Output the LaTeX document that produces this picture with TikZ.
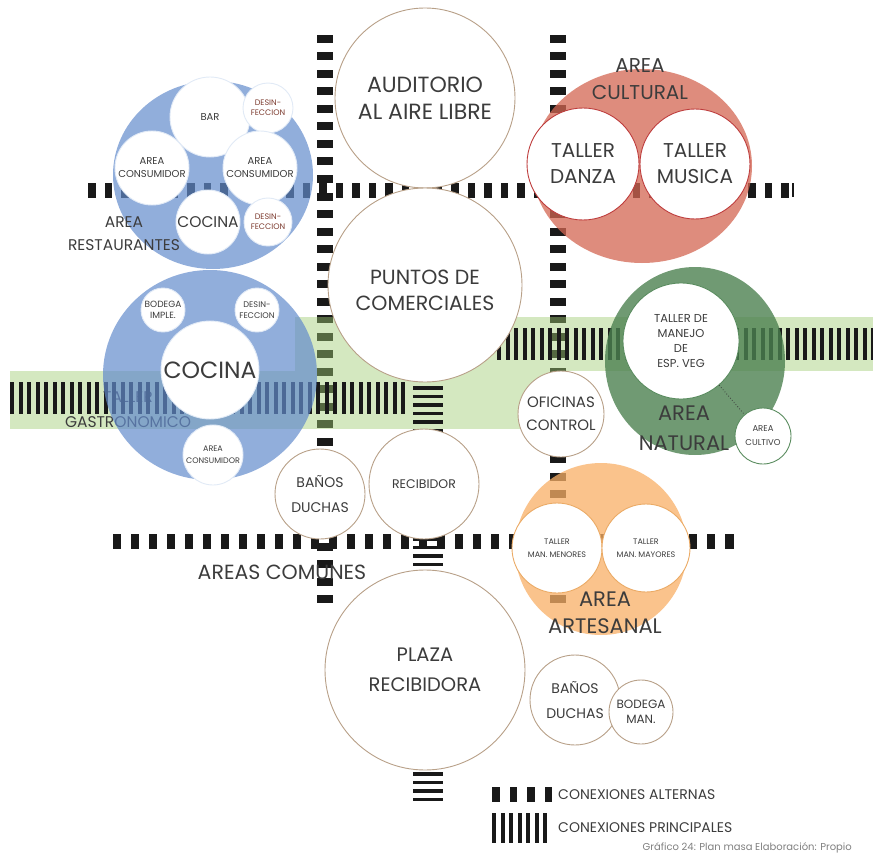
\documentclass[tikz,border=0pt]{standalone}
\usepackage{fontspec}
\setmainfont{Poppins}
\usetikzlibrary{shapes.geometric}
\definecolor{txt}{RGB}{60,60,60}
\definecolor{borde}{RGB}{184,160,136}
\definecolor{azul}{RGB}{99,139,204}
\definecolor{rojo}{RGB}{211,102,82}
\definecolor{verde}{RGB}{76,129,80}
\definecolor{naranja}{RGB}{248,175,102}
\definecolor{banda}{RGB}{160,204,115}
\definecolor{azulc}{RGB}{225,234,246}
\definecolor{rojoc}{RGB}{190,60,60}
\definecolor{verdec}{RGB}{90,140,95}
\definecolor{naranjac}{RGB}{235,170,100}
\newcommand{\letra}[2]{\fontsize{#1}{#2}\selectfont}
\tikzset{
	zona/.style={ellipse, fill=#1, fill opacity=0.75, inner sep=0pt},
	sala/.style={circle, draw=#1, fill=white, line width=0.9pt, inner sep=0pt, align=center, text=txt},
	sala/.default=borde,
	rotulo/.style={align=center, text=txt, inner sep=0pt},
	barra/.style={fill=black!90}
}
\begin{document}
\begin{tikzpicture}[x=1pt, y=-1pt]
			\useasboundingbox (0,0) rectangle (873,856);
			
			% conexiones alternas
			\def\altV {325/35/33, 558/35/33}  % x / first y / dashes
			\foreach \x\y\n in \altV
			{	\foreach \i in {1,...,\n}
				{	\fill[barra] ({\x-8},{\y+17.5*(\i-1)}) rectangle ++(16,8);
				}
			}
			\def\altH {88/190/43/16.5, 113/541/35/18}  % first x / y / dashes / step
			\foreach \x\y\n\p in \altH
			{	\foreach \i in {1,...,\n}
				{	\fill[barra] ({\x+\p*(\i-1)},{\y-7.5}) rectangle ++(7.5,15);
				}
			}
			\fill[barra] (792,183) rectangle ++(2,14);
			\fill[barra] (732,534) rectangle ++(2,15);
			
			% franjas verdes
			\fill[banda, fill opacity=0.45] (295,317) rectangle (873,371);
			\fill[banda, fill opacity=0.45] (10,371) rectangle (560,429);
			\node[rotulo, font=\letra{15.5}{25}] (lgas) at (128,410) {TALLER\\GASTRONOMICO};
			
			% conexiones principales
			\def\prinH {10/398/47, 497/344/45}  % first x / y / stripes
			\foreach \x\y\n in \prinH
			{	\foreach \i in {1,...,\n}
				{	\fill[barra] ({\x+8.5*(\i-1)},{\y-16}) rectangle ++(4,32);
				}
			}
			\def\prinV {386/6, 537/5, 772/4}  % first y / lines
			\foreach \y\n in \prinV
			{	\foreach \i in {1,...,\n}
				{	\fill[barra] (413,{\y+8.5*(\i-1)}) rectangle ++(30,3.5);
				}
			}
			
			% zonas
			\node[zona=azul, fill opacity=0.7, minimum width=200pt, minimum height=188pt] (rest) at (213,175) {};
			\node[zona=azul, fill opacity=0.7, minimum width=214pt, minimum height=210pt] (gast) at (210,375) {};
			\node[zona=rojo, minimum width=220pt, minimum height=194pt] (cult) at (642,166) {};
			\node[zona=verde, fill opacity=0.8, minimum width=180pt, minimum height=188pt] (nat) at (695,361) {};
			\node[zona=naranja, minimum width=172pt, minimum height=172pt] (art) at (601,549) {};
			
			% restaurantes
			\node[sala=azulc, minimum size=80pt, font=\letra{10}{12}] (bar) at (210,117) {BAR};
			\node[sala=azulc, minimum size=50pt, font=\letra{8}{10}, text=rojo!60!black] (des1) at (268,108) {DESIN-\\FECCION};
			\node[sala=azulc, minimum size=74pt, font=\letra{10}{13}] (con1) at (152,168) {AREA\\CONSUMIDOR};
			\node[sala=azulc, minimum size=74pt, font=\letra{10}{13}] (con2) at (260,168) {AREA\\CONSUMIDOR};
			\node[sala=azulc, minimum size=64pt, font=\letra{15.5}{18}] (coc1) at (208,222) {COCINA};
			\node[sala=azulc, minimum size=48pt, font=\letra{8}{10}, text=rojo!60!black] (des2) at (268,222) {DESIN-\\FECCION};
			
			% gastronomico
			\node[sala=azulc, minimum size=44pt, font=\letra{9}{11}] (bod1) at (163,310) {BODEGA\\IMPLE.};
			\node[sala=azulc, minimum size=44pt, font=\letra{8.2}{11}] (des3) at (257,310) {DESIN-\\FECCION};
			\node[sala=azulc, minimum size=98pt, font=\letra{23.5}{26}] (coc2) at (210,370) {COCINA};
			\node[sala=azulc, minimum size=60pt, font=\letra{8}{12}] (con3) at (213,455) {AREA\\CONSUMIDOR};
			
			% eje central
			\node[sala, minimum size=180pt, font=\letra{22}{27}] (aud) at (425,98) {AUDITORIO\\AL AIRE LIBRE};
			\node[sala, minimum size=194pt, font=\letra{20.5}{26}] (pun) at (425,285) {\rule{0pt}{25pt}PUNTOS DE\\COMERCIALES};
			\node[sala, minimum size=110pt, font=\letra{12.5}{14}] (rec) at (424,484) {RECIBIDOR};
			\node[sala, minimum size=90pt, font=\letra{14}{25}] (ban1) at (320,494) {BAÑOS\\DUCHAS};
			\node[sala, minimum size=200pt, font=\letra{19.5}{30}] (pla) at (425,670) {PLAZA\\RECIBIDORA};
			\node[sala, minimum size=86pt, font=\letra{15}{23}] (ofi) at (561,414) {OFICINAS\\CONTROL};
			\node[sala, minimum size=90pt, font=\letra{14}{25}] (ban2) at (575,700) {BAÑOS\\DUCHAS};
			\node[sala, minimum size=64pt, font=\letra{12}{15}] (bod2) at (641,712) {BODEGA\\MAN.};
			
			% cultural, natural, artesanal
			\node[sala=rojoc, minimum size=112pt, font=\letra{20}{26}] (dan) at (583,164) {TALLER\\DANZA};
			\node[sala=rojoc, minimum size=110pt, font=\letra{20}{26}] (mus) at (695,164) {TALLER\\MUSICA};
			\node[sala=verdec, minimum size=116pt, font=\letra{11.5}{15}] (man) at (681,341) {TALLER DE\\MANEJO\\DE\\ESP. VEG};
			\node[sala=verdec, minimum size=56pt, font=\letra{8.5}{14}] (cul) at (763,436) {AREA\\CULTIVO};
			\draw[dotted, thick, txt] (man) -- (cul);
			\node[sala=naranjac, minimum size=90pt, font=\letra{8}{13}] (men) at (557,548) {TALLER\\MAN. MENORES};
			\node[sala=naranjac, minimum size=88pt, font=\letra{8}{13}] (may) at (646,548) {TALLER\\MAN. MAYORES};
			
			% rotulos de zona
			\node[rotulo, font=\letra{15.5}{23}] (lrest) at (124,234) {AREA\\RESTAURANTES};
			\node[rotulo, font=\letra{20}{27}] (lcult) at (640,79) {AREA\\CULTURAL};
			\node[rotulo, font=\letra{21}{30}] (lnat) at (684,428) {AREA\\NATURAL};
			\node[rotulo, font=\letra{21}{27}] (lart) at (605,613) {AREA\\ARTESANAL};
			\node[rotulo, font=\letra{20.5}{24}] (lcom) at (282,572) {AREAS COMUNES};
			
			% leyenda
			\foreach \i in {0,...,3}
			{	\fill[barra] ({492+17.5*\i},787) rectangle ++(7.5,15);
			}
			\foreach \i in {0,...,6}
			{	\fill[barra] ({492+8.5*\i},813) rectangle ++(4,30);
			}
			\node[rotulo, anchor=west, font=\letra{14}{16}] (alt) at (558,795) {CONEXIONES ALTERNAS};
			\node[rotulo, anchor=west, font=\letra{14}{16}] (pri) at (558,828) {CONEXIONES PRINCIPALES};
			\node[rotulo, anchor=east, text=gray, font=\letra{10}{11}] (graf) at (852,848) {Gráfico 24: Plan masa Elaboración: Propio};
\end{tikzpicture}
\end{document}
